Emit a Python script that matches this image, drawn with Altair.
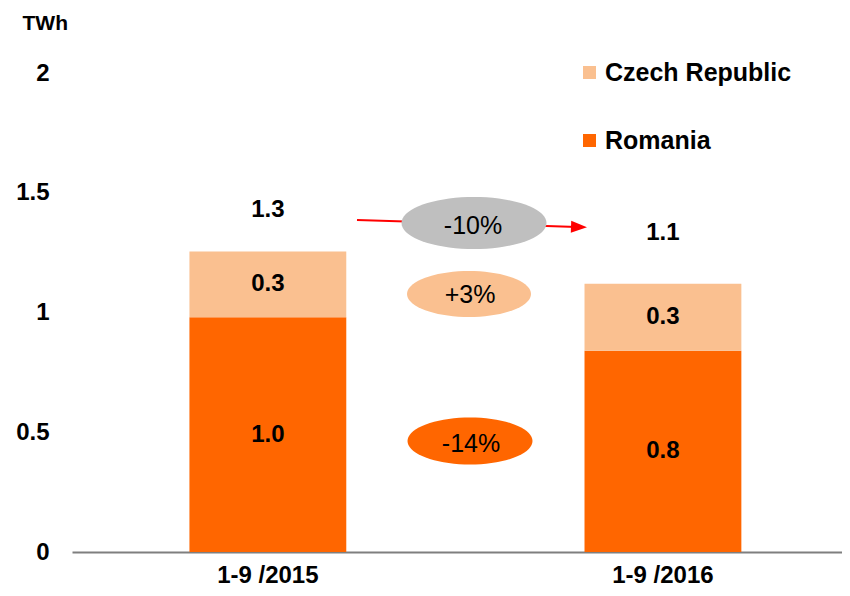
import math
import altair as alt
import pandas as pd

# ---- data ----
periods = ["1-9 /2015", "1-9 /2016"]
romania = [0.98, 0.84]
czech = [0.275, 0.28]
legend_order = ["Czech Republic", "Romania"]
legend_colors = ["#FAC090", "#FF6600"]
change_labels = ["-10%", "+3%", "-14%"]
change_colors = ["#BFBFBF", "#FAC090", "#FF6600"]

rows = []
for i, p in enumerate(periods):
    rows.append({"period": p, "country": "Romania", "value": romania[i], "ord": 0})
    rows.append({"period": p, "country": "Czech Republic", "value": czech[i], "ord": 1})
df = pd.DataFrame(rows)

FONT = "Liberation Sans"


def ellipse_path(ry, n=72):
    pts = []
    for k in range(n):
        t = 2 * math.pi * k / n
        pts.append(f"{math.cos(t):.4f} {ry * math.sin(t):.4f}")
    return "M " + " L ".join(pts) + " Z"


x_enc = alt.X(
    "period:N",
    sort=periods,
    scale=alt.Scale(paddingInner=0.603, paddingOuter=0.276, align=0.5385),
    axis=alt.Axis(
        title=None, labelAngle=0, labelFont=FONT, labelFontSize=24,
        labelFontWeight="bold", labelColor="black", labelPadding=11,
        ticks=False, domainColor="#7F7F7F", domainWidth=2,
    ),
)
y_scale = alt.Scale(domain=[0, 2], nice=False)
y_axis = alt.Axis(
    values=[0, 0.5, 1, 1.5, 2], format="~g", grid=False, domain=False,
    ticks=False, labelFont=FONT, labelFontSize=24, labelFontWeight="bold",
    labelColor="black", labelPadding=23,
    title="TWh", titleAngle=0, titleX=-50, titleY=-50, titleAlign="left",
    titleBaseline="middle", titleFont=FONT, titleFontSize=21,
    titleFontWeight="bold", titleColor="black",
)

base = alt.Chart(df).transform_stack(
    stack="value", groupby=["period"], sort=[alt.SortField("ord")], as_=["v0", "v1"]
)

bars = base.mark_bar().encode(
    x=x_enc,
    y=alt.Y("v0:Q", scale=y_scale, axis=y_axis),
    y2="v1:Q",
    color=alt.Color(
        "country:N",
        scale=alt.Scale(domain=legend_order, range=legend_colors),
        legend=alt.Legend(
            title=None, orient="none", legendX=505, legendY=-13,
            symbolType="square", symbolSize=169, symbolStrokeWidth=0,
            labelFont=FONT, labelFontSize=25, labelFontWeight="bold",
            labelColor="black", labelOffset=3, labelLimit=300, rowPadding=42,
        ),
    ),
)

seg_labels = base.transform_calculate(mid="(datum.v0 + datum.v1) / 2").mark_text(
    font=FONT, fontSize=24, fontWeight="bold", color="black"
).encode(
    x=x_enc,
    y=alt.Y("mid:Q", scale=y_scale, axis=y_axis),
    text=alt.Text("value:Q", format=".1f"),
)

totals = alt.Chart(df).transform_aggregate(total="sum(value)", groupby=["period"])
total1 = totals.transform_filter(alt.datum.period == periods[0]).mark_text(
    font=FONT, fontSize=24, fontWeight="bold", color="black", dy=-41
).encode(x=x_enc, y=alt.Y("total:Q", scale=y_scale, axis=y_axis),
         text=alt.Text("total:Q", format=".1f"))
total2 = totals.transform_filter(alt.datum.period == periods[1]).mark_text(
    font=FONT, fontSize=24, fontWeight="bold", color="black", dy=-51
).encode(x=x_enc, y=alt.Y("total:Q", scale=y_scale, axis=y_axis),
         text=alt.Text("total:Q", format=".1f"))

one = alt.Chart(pd.DataFrame({"k": [0]}))

arrow_line = one.mark_rule(color="#FF0000", strokeWidth=2).encode(
    x=alt.value(285), x2=alt.value(505), y=alt.value(147), y2=alt.value(154)
)
arrow_head = one.mark_point(
    shape="M -1 -0.75 L 1 0 L -1 0.75 Z", filled=True, fill="#FF0000",
    size=256, opacity=1, strokeWidth=0, angle=2,
).encode(x=alt.value(507), y=alt.value(154))

ell_grey = one.mark_point(
    shape=ellipse_path(0.359), filled=True, fill=change_colors[0], size=21025,
    opacity=1, strokeWidth=0,
).encode(x=alt.value(402), y=alt.value(150))
ell_light = one.mark_point(
    shape=ellipse_path(0.371), filled=True, fill=change_colors[1], size=15376,
    opacity=1, strokeWidth=0,
).encode(x=alt.value(397), y=alt.value(221))
ell_orange = one.mark_point(
    shape=ellipse_path(0.376), filled=True, fill=change_colors[2], size=15625,
    opacity=1, strokeWidth=0,
).encode(x=alt.value(398), y=alt.value(368))

txt_kw = dict(font=FONT, fontSize=25, color="black", baseline="middle", align="center")
t_grey = one.mark_text(text=change_labels[0], **txt_kw).encode(x=alt.value(401), y=alt.value(153))
t_light = one.mark_text(text=change_labels[1], **txt_kw).encode(x=alt.value(398), y=alt.value(222))
t_orange = one.mark_text(text=change_labels[2], **txt_kw).encode(x=alt.value(399), y=alt.value(371))

chart = alt.layer(
    bars, seg_labels, total1, total2,
    arrow_line, arrow_head, ell_grey, ell_light, ell_orange,
    t_grey, t_light, t_orange,
).properties(
    width=770, height=479,
    autosize=alt.AutoSizeParams(type="none"),
    padding={"left": 64, "top": 65, "right": 0, "bottom": 36},
    background="white",
).configure_view(stroke=None)

chart.save("out.html", embed_options={"renderer": "svg", "actions": False})
